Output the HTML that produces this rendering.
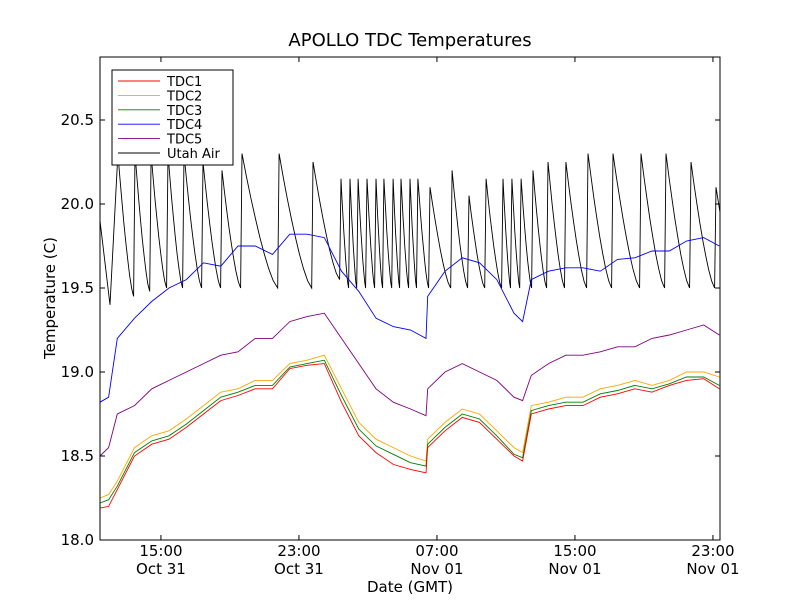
<!DOCTYPE html>
<html><head><meta charset="utf-8"><style>
body{margin:0;background:#fff;}
svg{display:block;font-family:"DejaVu Sans","Liberation Sans",sans-serif;}
</style></head><body>
<svg id="chart" width="800" height="600" viewBox="0 0 800 600">
<rect width="800" height="600" fill="#fff"/>
<text x="410" y="46" font-size="18" text-anchor="middle">APOLLO TDC Temperatures</text>
<g id="series"></g>
<rect x="100" y="57" width="620" height="483" fill="none" stroke="#000" stroke-width="1"/>
<g id="axes"></g>
<text x="410" y="592" font-size="15" text-anchor="middle">Date (GMT)</text>
<text transform="translate(55,298) rotate(-90)" font-size="15" text-anchor="middle">Temperature (C)</text>
<g>
<rect x="112" y="70" width="121" height="95" fill="#fff" stroke="#000"/>
<g id="legend-items"></g>
</g>
</svg>
<script>
// hours since 11:28 GMT Oct 31
const hours = [0,0.5,1,2,3,4,5,6,7,8,9,10,11,12,13,14,15,16,17,18,18.9,19,20,21,22,23,24,24.5,25,26,27,28,29,30,31,32,33,34,35,35.9];
const tdc4 = [18.82,18.85,19.2,19.32,19.42,19.5,19.55,19.65,19.63,19.75,19.75,19.7,19.82,19.82,19.8,19.6,19.48,19.32,19.27,19.25,19.2,19.45,19.6,19.68,19.65,19.55,19.35,19.3,19.55,19.6,19.62,19.62,19.6,19.67,19.68,19.72,19.72,19.78,19.8,19.75];
const tdc5 = [18.5,18.55,18.75,18.8,18.9,18.95,19.0,19.05,19.1,19.12,19.2,19.2,19.3,19.33,19.35,19.2,19.05,18.9,18.82,18.78,18.74,18.9,19.0,19.05,19.0,18.95,18.85,18.83,18.98,19.05,19.1,19.1,19.12,19.15,19.15,19.2,19.22,19.25,19.28,19.22];
const tdc2 = [18.25,18.27,18.35,18.55,18.62,18.65,18.72,18.8,18.88,18.9,18.95,18.95,19.05,19.07,19.1,18.9,18.7,18.6,18.55,18.5,18.47,18.6,18.7,18.78,18.75,18.65,18.55,18.52,18.8,18.82,18.85,18.85,18.9,18.92,18.95,18.92,18.95,19.0,19.0,18.97];
const tdc3 = [18.22,18.24,18.32,18.52,18.59,18.62,18.69,18.77,18.85,18.88,18.92,18.92,19.03,19.05,19.07,18.86,18.66,18.56,18.51,18.46,18.44,18.57,18.67,18.75,18.72,18.62,18.51,18.49,18.77,18.8,18.82,18.82,18.87,18.89,18.92,18.9,18.93,18.97,18.97,18.92];
const tdc1 = [18.19,18.2,18.3,18.5,18.57,18.6,18.67,18.75,18.83,18.86,18.9,18.9,19.02,19.04,19.05,18.82,18.62,18.52,18.45,18.42,18.4,18.55,18.65,18.73,18.7,18.6,18.5,18.47,18.75,18.78,18.8,18.8,18.85,18.87,18.9,18.88,18.92,18.95,18.96,18.9];
const airPeakHours = [1.04,2.03,2.96,3.94,4.87,5.97,7.07,8.23,10.38,12.35,13.97,14.49,14.96,15.48,16.0,16.46,16.99,17.45,17.97,18.43,19.13,20.41,21.39,22.38,23.36,23.88,24.41,25.1,25.97,27.01,28.29,29.74,31.36,32.81,34.26,35.71];
const airPeaks = [20.3,20.3,20.3,20.3,20.3,20.25,20.2,20.3,20.3,20.25,20.15,20.15,20.15,20.15,20.15,20.15,20.15,20.15,20.15,20.15,20.1,20.2,20.05,20.15,20.15,20.15,20.15,20.2,20.25,20.25,20.3,20.3,20.3,20.3,20.25,20.1];
const airTroughs = [19.45,19.48,19.5,19.5,19.5,19.5,19.5,19.5,19.5,19.55,19.5,19.5,19.5,19.5,19.5,19.5,19.5,19.5,19.5,19.5,19.5,19.5,19.5,19.5,19.5,19.5,19.5,19.5,19.5,19.5,19.5,19.5,19.5,19.5,19.5,19.5];
const airStart = [19.9,19.4];
const yTicks = [18.0,18.5,19.0,19.5,20.0,20.5];
const xTickHours = [3.533,11.533,19.533,27.533,35.533];
const xTickLabels = [["15:00","Oct 31"],["23:00","Oct 31"],["07:00","Nov 01"],["15:00","Nov 01"],["23:00","Nov 01"]];

const X0=100,X1=720,Y0=540,Y1=57,HMAX=620/17.25,VMIN=18,VMAX=20.875;
const xs=h=>X0+h/HMAX*(X1-X0);
const ys=v=>Y0-(v-VMIN)/(VMAX-VMIN)*(Y0-Y1);
const NS="http://www.w3.org/2000/svg";
const seriesG=document.getElementById('series');
function poly(pts,color,name){
  const p=document.createElementNS(NS,'polyline');
  p.setAttribute('points',pts.map(q=>q[0].toFixed(1)+','+q[1].toFixed(1)).join(' '));
  p.setAttribute('fill','none');p.setAttribute('stroke',color);p.setAttribute('stroke-width','0.9');
  
  
  seriesG.appendChild(p);
}
const air=[[xs(0),ys(airStart[0])],[xs(0.58),ys(airStart[1])]];
for(let i=0;i<airPeakHours.length;i++){
  const t=airPeakHours[i],pk=airPeaks[i],tr=airTroughs[i];
  air.push([xs(t),ys(pk)]);
  const last=i+1>=airPeakHours.length;
  const end=last?HMAX:airPeakHours[i+1]-0.08;
  for(let k=1;k<=8;k++){const f=k/8;const tt=t+(end-t)*f;
    const v=!last?tr+(pk-tr)*Math.pow(1-f,1.4):pk-(pk-19.95)*f;
    air.push([xs(tt),ys(v)]);}
}
poly(air,'#000','utah-air-line');
const mk=arr=>hours.map((h,i)=>[xs(h),ys(arr[i])]);
poly(mk(tdc4),'#0000ff','tdc4-line');
poly(mk(tdc5),'#800080','tdc5-line');
poly(mk(tdc2),'#ffa500','tdc2-line');
poly(mk(tdc3),'#008000','tdc3-line');
poly(mk(tdc1),'#ff0000','tdc1-line');

const ax=document.getElementById('axes');
yTicks.forEach(v=>{const y=ys(v);
  const l=document.createElementNS(NS,'path');
  l.setAttribute('d',`M100 ${y}h5M720 ${y}h-5`);l.setAttribute('stroke','#000');
  
  
  ax.appendChild(l);
  const t=document.createElementNS(NS,'text');
  t.setAttribute('x',94);t.setAttribute('y',y+5);t.setAttribute('font-size','15');t.setAttribute('text-anchor','end');
  t.textContent=v.toFixed(1);
  
  
  ax.appendChild(t);});
xTickHours.forEach((h,i)=>{const x=xs(h);
  const l=document.createElementNS(NS,'path');
  l.setAttribute('d',`M${x} 540v-5M${x} 57v5`);l.setAttribute('stroke','#000');
  
  
  ax.appendChild(l);
  xTickLabels[i].forEach((s,j)=>{const t=document.createElementNS(NS,'text');
    t.setAttribute('x',x);t.setAttribute('y',556+j*18);t.setAttribute('font-size','15');t.setAttribute('text-anchor','middle');
    t.textContent=s;
    
    
    ax.appendChild(t);});});
const legNames=['TDC1','TDC2','TDC3','TDC4','TDC5','Utah Air'];
const legColors=['#ff0000','#ffa500','#008000','#0000ff','#800080','#000'];
const lg=document.getElementById('legend-items');
legNames.forEach((n,i)=>{const y=81+i*14.4;
  const g=document.createElementNS(NS,'g');
  
  
  g.innerHTML=`<line x1="118" x2="160" y1="${y}" y2="${y}" stroke="${legColors[i]}" stroke-width="0.9"/><text x="167" y="${y+5}" font-size="13">${n}</text>`;
  lg.appendChild(g);});
</script>
</body></html>
